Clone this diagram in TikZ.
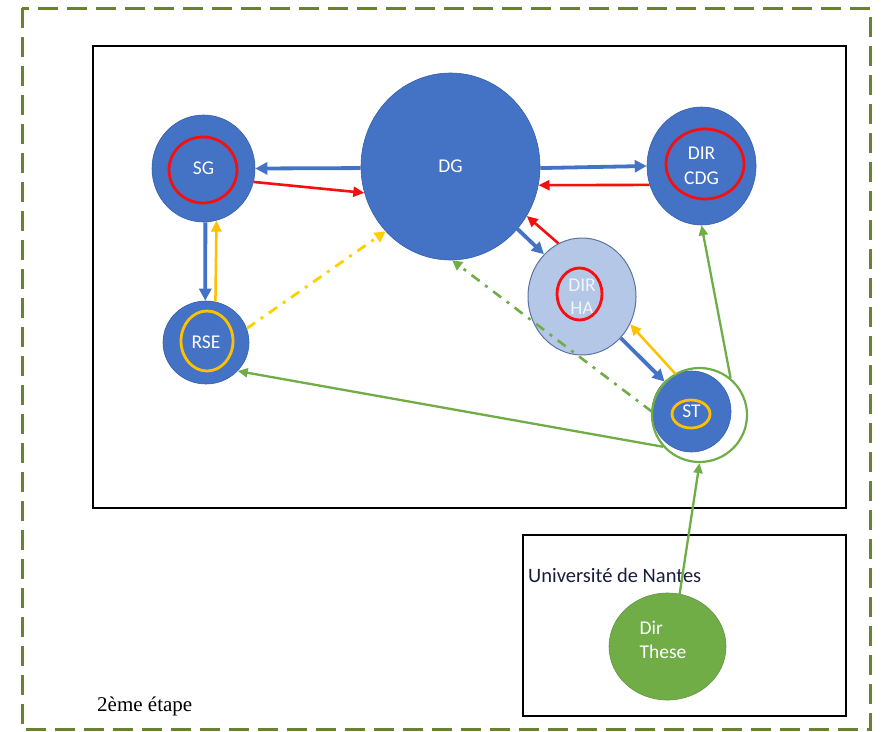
\documentclass[tikz,border=0pt]{standalone}
\usepackage{fontspec}
\setmainfont{Liberation Serif}
\newfontfamily\calib{Carlito}
\usetikzlibrary{shapes.geometric,arrows.meta}
\definecolor{cblue}{RGB}{68,114,196}
\definecolor{cblueb}{RGB}{55,95,170}
\definecolor{clight}{RGB}{180,199,231}
\definecolor{clightb}{RGB}{90,115,165}
\definecolor{cred}{RGB}{245,15,15}
\definecolor{corange}{RGB}{255,192,0}
\definecolor{cyellow}{RGB}{255,208,0}
\definecolor{cgreen}{RGB}{112,173,71}
\definecolor{cgreenb}{RGB}{95,150,60}
\definecolor{colive}{RGB}{105,130,45}
\definecolor{cnavy}{RGB}{25,30,60}
\tikzset{
  bubble/.style={ellipse, fill=cblue, draw=cblueb, line width=0.6pt, inner sep=0pt,
    text=white, font=\calib\fontsize{19.5}{25}\selectfont, align=center},
  ring/.style={ellipse, draw, line width=2.8pt, inner sep=0pt, fill=none},
  bluearr/.style={draw=cblue, line width=3.8pt, -{Triangle[length=12pt,width=12pt]}},
  redarr/.style={draw=cred, line width=2.6pt, -{Triangle[length=11pt,width=10pt]}},
  orarr/.style={draw=corange, line width=2.5pt, -{Triangle[length=11pt,width=10pt]}},
  greenarr/.style={draw=cgreen, line width=2.3pt, -{Triangle[length=10pt,width=9pt]}},
  dashdot/.style={dash pattern=on 10pt off 7pt on 3pt off 7pt},
  frame/.style={draw=black, line width=2.8pt},
}
\begin{document}
\begin{tikzpicture}[x=1pt,y=-1pt]
\useasboundingbox (0,0) rectangle (885,731);
\fill[white] (0,0) rectangle (885,731);
% outer dashed frame
\draw[colive, line width=3pt, dash pattern=on 20pt off 9pt] (22,8) rectangle (870,729.5);
% frames
\draw[frame] (93,46) rectangle (846,508);
\draw[frame] (523,535) rectangle (846,716);
% nodes
\node[bubble, minimum width=179pt, minimum height=187pt] (DG) at (450.5,166.5) {DG};
\node[bubble, minimum width=103pt, minimum height=107pt] (SG) at (203.5,168.5) {SG};
\node[ring, draw=cred, minimum width=68pt, minimum height=66pt] (SGr) at (203,170) {};
\node[bubble, minimum width=109pt, minimum height=118pt] (CDG) at (701.5,166) {DIR\\CDG};
\node[ring, draw=cred, minimum width=78pt, minimum height=70pt] (CDGr) at (705,164) {};
\node[bubble, minimum width=86pt, minimum height=83pt] (RSE) at (206,342.5) {RSE};
\node[ring, draw=corange, minimum width=52pt, minimum height=60pt] (RSEr) at (207,341) {};
\node[bubble, fill=clight, draw=clightb, line width=1pt, text={rgb,255:red,240;green,244;blue,252}, font=\calib\fontsize{19.5}{23}\selectfont,
  minimum width=108pt, minimum height=117pt] (HA) at (582,296.5) {DIR\\HA};
\node[ring, draw=cred, minimum width=45pt, minimum height=52pt] (HAr) at (579.5,294) {};
\node[bubble, minimum width=79pt, minimum height=81pt] (ST) at (691.5,411.5) {ST};
\node[ring, draw=corange, minimum width=38pt, minimum height=28pt] (STr) at (691,414) {};
\node[ring, draw=cgreen, line width=2.2pt, minimum width=95pt, minimum height=94pt] (RING) at (699.5,415) {};
\node[ellipse, fill=cgreen, draw=cgreenb, line width=0.6pt, inner sep=0pt,
  minimum width=117pt, minimum height=107pt] (DT) at (667.5,646.5) {};
\node[text=white, font=\calib\fontsize{19.5}{24}\selectfont, align=left] (DTt) at (663,640) {Dir\\These};
% labels
\node[anchor=base west, inner sep=0pt, text=cnavy, font=\calib\fontsize{20.5}{24}\selectfont] (UN) at (528,582) {Université de Nantes};
\node[anchor=base west, inner sep=0pt, font=\fontsize{21}{24}\selectfont] (ET) at (97,711) {2ème étape};
% arrows
\draw[bluearr] (DG.181) -- (SG.0);
\draw[redarr] (SG.-15) -- (DG.197);
\draw[bluearr] (DG.-1) -- (CDG.180);
\draw[redarr] (CDG.200) -- (DG.-12);
\draw[bluearr] (DG.-43) -- (HA.132);
\draw[redarr] (HA.114) -- (DG.-33);
\draw[bluearr] (SG.-88) -- (RSE.91);
\draw[orarr] (RSE.77) -- (SG.-76);
\draw[draw=cyellow, line width=2.8pt, dashdot, -{Triangle[length=11pt,width=11pt]}] (RSE.19) -- (DG.225);
\draw[draw=cgreen, line width=2.6pt, dashdot, -{Triangle[length=10pt,width=10pt]}] (ST.180) -- (DG.-89);
\draw[bluearr] (HA.-47) -- (ST.132);
\draw[orarr] (ST.113) -- (HA.-30);
\draw[greenarr] (RING.221) -- (RSE.-42);
\draw[greenarr] (RING.50) -- (CDG.-90);
\draw[greenarr] (DT.77) -- (RING.-90);
\end{tikzpicture}
\end{document}
